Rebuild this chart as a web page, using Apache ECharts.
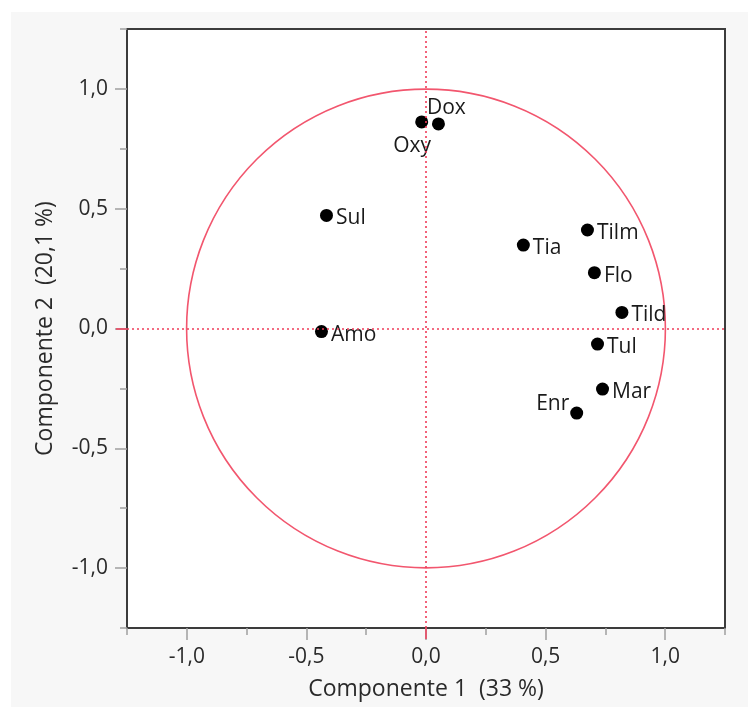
<!DOCTYPE html>
<html>
<head>
<meta charset="utf-8">
<script src="https://cdn.jsdelivr.net/npm/echarts@6/dist/echarts.min.js"></script>
<style>
  html, body { margin: 0; padding: 0; background: #ffffff; }
  #bg { position: absolute; left: 11px; top: 12px; width: 737px; height: 695px; background: #f7f7f7; }
  #chart { position: absolute; left: 0; top: 0; width: 748px; height: 707px; }
</style>
</head>
<body>
<div id="bg"></div>
<div id="chart"></div>
<script>
// ---- data ----
const names = ['Dox', 'Oxy', 'Sul', 'Tia', 'Tilm', 'Flo', 'Tild', 'Amo', 'Tul', 'Mar', 'Enr'];
const comp1 = [0.052, -0.018, -0.416, 0.407, 0.675, 0.704, 0.819, -0.437, 0.717, 0.738, 0.630];
const comp2 = [0.854, 0.862, 0.472, 0.348, 0.411, 0.233, 0.067, -0.013, -0.065, -0.253, -0.353];
const majorTicks = [-1, -0.5, 0, 0.5, 1];
const minorTicks = [-1.25, -0.75, -0.25, 0.25, 0.75, 1.25];
const circleCenter = [0, 0];
const circleRadius = 1;
const xTitle = 'Componente 1  (33 %)';
const yTitle = 'Componente 2  (20,1 %)';

// ---- styles ----
const FONT = 'Open Sans';
const FS = 21;
const FS_TITLE = 23;
const labelOffsets = {
  Dox: [-21, -16],
  Oxy: [-38, 24],
  Enr: [-50, -9]
};

const fmt = v => v.toFixed(1).replace('.', ',');

const points = names.map((n, i) => {
  const item = { name: n, value: [comp1[i], comp2[i]] };
  item.label = { position: 'right', distance: 3, offset: labelOffsets[n] || [0, 3] };
  return item;
});

function mainAxis(type, title) {
  const isX = type === 'x';
  return {
    type: 'value', min: -1.25, max: 1.25,
    position: isX ? 'bottom' : 'left',
    name: title, nameLocation: 'middle',
    nameGap: isX ? 50 : 70,
    nameTextStyle: { fontFamily: FONT, fontSize: FS_TITLE, color: '#2a2a2a' },
    axisLine: { show: true, onZero: false, lineStyle: { color: '#3c3c3c', width: 2 } },
    axisTick: { show: true, inside: false, length: 12, customValues: majorTicks,
                lineStyle: { color: '#a0a0a0', width: 1.5 } },
    axisLabel: { show: true, customValues: majorTicks, margin: 19, formatter: fmt,
                 fontFamily: FONT, fontSize: FS, color: '#2a2a2a' },
    splitLine: { show: false }
  };
}
function minorAxis(type) {
  const isX = type === 'x';
  return {
    type: 'value', min: -1.25, max: 1.25,
    position: isX ? 'bottom' : 'left', offset: 0,
    axisLine: { show: false, onZero: false },
    axisTick: { show: true, inside: false, length: 7, customValues: minorTicks,
                lineStyle: { color: '#a0a0a0', width: 1.5 } },
    axisLabel: { show: false },
    splitLine: { show: false }
  };
}
function zeroAxis(type) {
  const isX = type === 'x';
  return {
    type: 'value', min: -1.25, max: 1.25,
    position: isX ? 'bottom' : 'left', offset: 0,
    axisLine: { show: false, onZero: false },
    axisTick: { show: true, inside: false, length: 11, customValues: [0],
                lineStyle: { color: '#f03c5a', width: 1.5 } },
    axisLabel: { show: false },
    splitLine: { show: false }
  };
}

const chart = echarts.init(document.getElementById('chart'), null, { renderer: 'canvas' });
chart.setOption({
  backgroundColor: 'transparent',
  animation: false,
  grid: { left: 127, top: 29, right: 23, bottom: 79, show: true,
          backgroundColor: '#ffffff', borderColor: '#3c3c3c', borderWidth: 2 },
  xAxis: [mainAxis('x', xTitle), minorAxis('x'), zeroAxis('x')],
  yAxis: [mainAxis('y', yTitle), minorAxis('y'), zeroAxis('y')],
  series: [
    {
      type: 'custom',
      xAxisIndex: 0, yAxisIndex: 0,
      silent: true,
      data: [[circleCenter[0], circleCenter[1], circleRadius]],
      renderItem: function (params, api) {
        const c = api.coord([api.value(0), api.value(1)]);
        const s = api.size([api.value(2), api.value(2)]);
        return {
          type: 'circle',
          shape: { cx: c[0], cy: c[1], r: (s[0] + s[1]) / 2 },
          style: { fill: 'none', stroke: '#f2566e', lineWidth: 1.6 }
        };
      },
      z: 1
    },
    {
      type: 'scatter',
      xAxisIndex: 0, yAxisIndex: 0,
      symbol: 'circle', symbolSize: 13,
      itemStyle: { color: '#000000', opacity: 1 },
      label: { show: true, formatter: '{b}', fontFamily: FONT, fontSize: FS, color: '#1a1a1a' },
      data: points,
      markLine: {
        silent: true, symbol: 'none', animation: false,
        label: { show: false },
        lineStyle: { color: '#f03c5a', type: [2, 3], width: 1.6 },
        data: [{ xAxis: 0 }, { yAxis: 0 }]
      },
      z: 3
    }
  ]
});
</script>
</body>
</html>
